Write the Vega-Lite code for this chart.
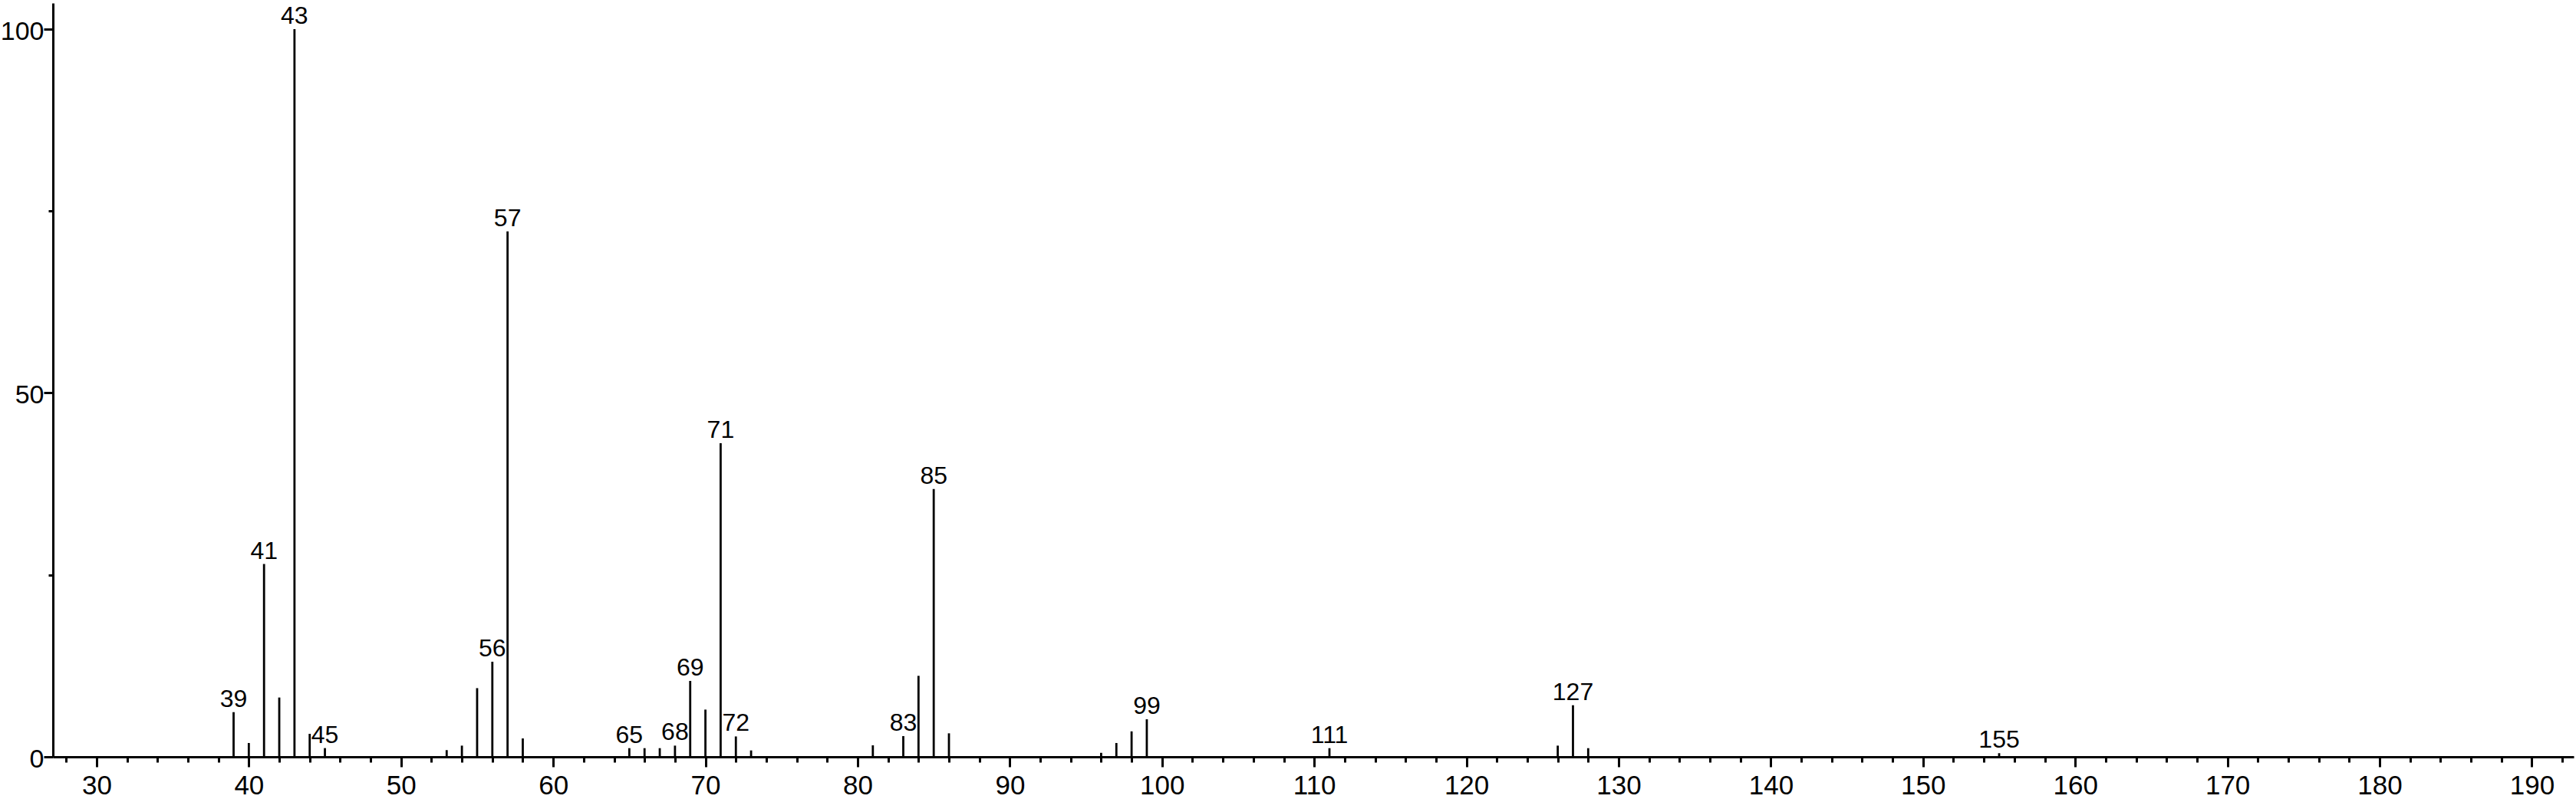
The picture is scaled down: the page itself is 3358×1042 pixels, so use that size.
{
  "$schema": "https://vega.github.io/schema/vega-lite/v6.json",
  "width": 3286,
  "height": 983,
  "autosize": {"type": "none"},
  "padding": {"left": 69, "top": 4, "right": 3, "bottom": 55},
  "background": "white",
  "config": {
    "view": {"stroke": null},
    "axis": {
      "grid": false,
      "domainColor": "black",
      "tickColor": "black",
      "labelColor": "black",
      "labelFont": "Liberation Sans",
      "labelFontSize": 35,
      "domainWidth": 3,
      "tickWidth": 3,
      "labelFlush": false,
      "labelOverlap": false
    }
  },
  "data": {
    "values": [
      {"mz": 39, "intensity": 6.14, "labeled": true},
      {"mz": 40, "intensity": 1.9, "labeled": false},
      {"mz": 41, "intensity": 26.5, "labeled": true},
      {"mz": 42, "intensity": 8.15, "labeled": false},
      {"mz": 43, "intensity": 100, "labeled": true},
      {"mz": 44, "intensity": 3.16, "labeled": false},
      {"mz": 45, "intensity": 1.2, "labeled": true},
      {"mz": 53, "intensity": 0.92, "labeled": false},
      {"mz": 54, "intensity": 1.54, "labeled": false},
      {"mz": 55, "intensity": 9.44, "labeled": false},
      {"mz": 56, "intensity": 13.07, "labeled": true},
      {"mz": 57, "intensity": 72.2, "labeled": true},
      {"mz": 58, "intensity": 2.53, "labeled": false},
      {"mz": 65, "intensity": 1.19, "labeled": true},
      {"mz": 66, "intensity": 1.19, "labeled": false},
      {"mz": 67, "intensity": 1.19, "labeled": false},
      {"mz": 68, "intensity": 1.54, "labeled": true},
      {"mz": 69, "intensity": 10.43, "labeled": true},
      {"mz": 70, "intensity": 6.49, "labeled": false},
      {"mz": 71, "intensity": 43.1, "labeled": true},
      {"mz": 72, "intensity": 2.8, "labeled": true},
      {"mz": 73, "intensity": 0.88, "labeled": false},
      {"mz": 81, "intensity": 1.58, "labeled": false},
      {"mz": 83, "intensity": 2.85, "labeled": true},
      {"mz": 84, "intensity": 11.13, "labeled": false},
      {"mz": 85, "intensity": 36.8, "labeled": true},
      {"mz": 86, "intensity": 3.23, "labeled": false},
      {"mz": 96, "intensity": 0.55, "labeled": false},
      {"mz": 97, "intensity": 1.9, "labeled": false},
      {"mz": 98, "intensity": 3.5, "labeled": false},
      {"mz": 99, "intensity": 5.16, "labeled": true},
      {"mz": 111, "intensity": 1.19, "labeled": true},
      {"mz": 126, "intensity": 1.54, "labeled": false},
      {"mz": 127, "intensity": 7.09, "labeled": true},
      {"mz": 128, "intensity": 1.19, "labeled": false},
      {"mz": 155, "intensity": 0.5, "labeled": true}
    ]
  },
  "resolve": {"axis": {"x": "independent", "y": "independent"}},
  "layer": [
    {
      "mark": {"type": "rule", "color": "black", "strokeWidth": 2.8},
      "encoding": {
        "x": {
          "field": "mz",
          "type": "quantitative",
          "scale": {"domain": [27.13, 192.75], "nice": false, "zero": false},
          "axis": {
            "orient": "bottom",
            "values": [28, 30, 32, 34, 36, 38, 40, 42, 44, 46, 48, 50, 52, 54, 56, 58, 60, 62, 64, 66, 68, 70, 72, 74, 76, 78, 80, 82, 84, 86, 88, 90, 92, 94, 96, 98, 100, 102, 104, 106, 108, 110, 112, 114, 116, 118, 120, 122, 124, 126, 128, 130, 132, 134, 136, 138, 140, 142, 144, 146, 148, 150, 152, 154, 156, 158, 160, 162, 164, 166, 168, 170, 172, 174, 176, 178, 180, 182, 184, 186, 188, 190, 192],
            "tickSize": 7,
            "labels": false,
            "title": null
          }
        },
        "y": {
          "field": "intensity",
          "type": "quantitative",
          "scale": {"domain": [0, 103.58], "nice": false},
          "axis": {
            "orient": "left",
            "values": [25, 75],
            "tickSize": 6,
            "labels": false,
            "title": null
          }
        },
        "y2": {"datum": 0}
      }
    },
    {
      "transform": [{"filter": "datum.labeled"}],
      "mark": {"type": "text", "baseline": "alphabetic", "align": "center", "dy": -7, "font": "Liberation Sans", "fontSize": 32, "color": "black"},
      "encoding": {
        "x": {
          "field": "mz",
          "type": "quantitative",
          "scale": {"domain": [27.13, 192.75], "nice": false, "zero": false},
          "axis": {
            "orient": "bottom",
            "values": [30, 40, 50, 60, 70, 80, 90, 100, 110, 120, 130, 140, 150, 160, 170, 180, 190],
            "tickSize": 13,
            "labelPadding": 7,
            "domain": false,
            "title": null
          }
        },
        "y": {
          "field": "intensity",
          "type": "quantitative",
          "scale": {"domain": [0, 103.58], "nice": false},
          "axis": {
            "orient": "left",
            "values": [0, 50, 100],
            "tickSize": 12,
            "labelPadding": 0,
            "labelFontSize": 34,
            "labelOffset": 3.5,
            "domain": false,
            "title": null
          }
        },
        "text": {"field": "mz", "type": "quantitative", "format": "d"}
      }
    }
  ]
}
